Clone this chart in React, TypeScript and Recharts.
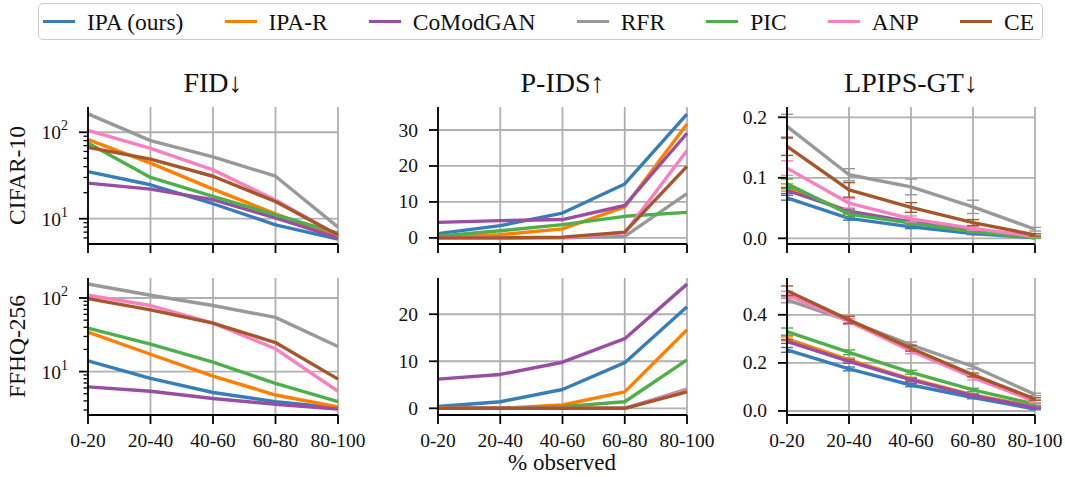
import React from 'react';
import { LineChart, Line, XAxis, YAxis, CartesianGrid, ErrorBar } from 'recharts';

const categories = ['0-20', '20-40', '40-60', '60-80', '80-100'];
const seriesNames = ['IPA (ours)', 'IPA-R', 'CoModGAN', 'RFR', 'PIC', 'ANP', 'CE'];
const seriesColors = ['#377eb8', '#ff7f00', '#984ea3', '#999999', '#4daf4a', '#f781bf', '#a65628'];
const metricTitles = ['FID↓', 'P-IDS↑', 'LPIPS-GT↓'];
const datasetLabels = ['CIFAR-10', 'FFHQ-256'];
const xLabel = '% observed';

// series order: IPA, IPA-R, CoModGAN, RFR, PIC, ANP, CE
const fidCifar = [
  [35, 24.7, 14.9, 8.5, 5.8],
  [82, 44, 22, 11.4, 6.2],
  [25.8, 22, 16.6, 10.2, 6.0],
  [163, 80, 52, 31, 8.0],
  [75, 30, 18.1, 11.1, 6.8],
  [105, 65, 36.7, 16.5, 6.4],
  [67, 48.8, 31, 15.8, 6.5],
];
const pidsCifar = [
  [1.2, 3.4, 6.9, 15.0, 34.4],
  [0.2, 0.9, 2.5, 8.6, 31.7],
  [4.3, 4.8, 5.1, 9.0, 29.1],
  [0, 0, 0, 0.4, 12.3],
  [0.5, 2.0, 3.7, 6.0, 7.1],
  [0, 0, 0, 1.4, 24.3],
  [0, 0, 0.2, 1.6, 19.9],
];
const lpipsCifar = [
  [0.067, 0.033, 0.019, 0.008, 0.001],
  [0.084, 0.044, 0.026, 0.012, 0.002],
  [0.079, 0.045, 0.027, 0.013, 0.002],
  [0.185, 0.105, 0.085, 0.052, 0.015],
  [0.09, 0.04, 0.025, 0.011, 0.001],
  [0.116, 0.058, 0.032, 0.0165, 0.003],
  [0.152, 0.08, 0.051, 0.026, 0.0055],
];
const lpipsCifarErr = [
  [0.004, 0.003, 0.003, 0.002, 0.001],
  [0.006, 0.004, 0.003, 0.002, 0.001],
  [0.005, 0.004, 0.003, 0.002, 0.001],
  [0.02, 0.01, 0.013, 0.011, 0.003],
  [0.008, 0.005, 0.003, 0.002, 0.001],
  [0.012, 0.008, 0.005, 0.003, 0.001],
  [0.015, 0.012, 0.008, 0.005, 0.002],
];
const fidFfhq = [
  [14, 8.1, 5.2, 3.9, 3.2],
  [34.4, 17.2, 8.7, 4.8, 3.3],
  [6.2, 5.4, 4.3, 3.6, 3.1],
  [155, 109, 79, 54.5, 21.9],
  [39, 23.6, 13.4, 6.9, 3.9],
  [109, 79, 45.6, 20.4, 5.4],
  [98, 69, 45.6, 24.8, 7.9],
];
const pidsFfhq = [
  [0.4, 1.4, 4.0, 9.7, 21.6],
  [0, 0, 0.7, 3.5, 16.7],
  [6.2, 7.2, 9.8, 14.8, 26.4],
  [0, 0, 0, 0, 4.1],
  [0, 0, 0.35, 1.4, 10.3],
  [0, 0, 0, 0, 3.8],
  [0, 0, 0, 0, 3.5],
];
const lpipsFfhq = [
  [0.254, 0.175, 0.108, 0.056, 0.008],
  [0.3, 0.2125, 0.133, 0.067, 0.018],
  [0.289, 0.206, 0.129, 0.064, 0.014],
  [0.462, 0.375, 0.275, 0.185, 0.069],
  [0.33, 0.244, 0.161, 0.0875, 0.028],
  [0.483, 0.372, 0.25, 0.139, 0.039],
  [0.5, 0.379, 0.261, 0.15, 0.05],
];
const lpipsFfhqErr = [
  [0.01, 0.008, 0.007, 0.005, 0.003],
  [0.008, 0.008, 0.007, 0.005, 0.003],
  [0.008, 0.008, 0.007, 0.005, 0.003],
  [0.012, 0.01, 0.012, 0.01, 0.005],
  [0.015, 0.01, 0.008, 0.007, 0.004],
  [0.015, 0.012, 0.012, 0.01, 0.005],
  [0.02, 0.015, 0.012, 0.008, 0.005],
];

const fidCifarTicks = [6, 7, 8, 9, 10, 20, 30, 40, 50, 60, 70, 80, 90, 100];
const fidFfhqTicks = [3, 4, 5, 6, 7, 8, 9, 10, 20, 30, 40, 50, 60, 70, 80, 90, 100];
const pidsCifarTicks = [0, 10, 20, 30];
const pidsFfhqTicks = [0, 10, 20];
const lpipsCifarTicks = [0, 0.1, 0.2];
const lpipsFfhqTicks = [0, 0.2, 0.4];

const FONT = "Liberation Serif, DejaVu Serif, Times New Roman, serif";
const TEXT = '#111';
const YW = 80;
const MT = 12;
const MR = 30;
const XH = 45;

const makeYTick = (log: boolean, decimals: boolean) => (p: any) => {
  const { x, y, payload } = p;
  const v = payload.value as number;
  if (log) {
    const e = Math.log10(v);
    const major = Math.abs(e - Math.round(e)) < 1e-6;
    if (!major) {
      return <line x1={x - 4.5} x2={x} y1={y} y2={y} stroke="#000" strokeWidth={1.3} />;
    }
    return (
      <g>
        <line x1={x - 9} x2={x} y1={y} y2={y} stroke="#000" strokeWidth={1.8} />
        <text x={x - 20} y={y} dy={7} textAnchor="end" fontFamily={FONT} fontSize={19.5} fill={TEXT}>
          10<tspan dy={-9} fontSize={14}>{Math.round(e)}</tspan>
        </text>
      </g>
    );
  }
  const label = decimals ? v.toFixed(1) : String(v);
  return (
    <g>
      <line x1={x - 9} x2={x} y1={y} y2={y} stroke="#000" strokeWidth={1.8} />
      <text x={x - 20} y={y} dy={6.5} textAnchor="end" fontFamily={FONT} fontSize={19.5} fill={TEXT}>
        {label}
      </text>
    </g>
  );
};

type PanelProps = {
  values: number[][];
  errors?: number[][];
  left: number;
  top: number;
  plotW: number;
  plotH: number;
  log?: boolean;
  decimals?: boolean;
  domain: [number, number];
  ticks: number[];
  gridValues: number[];
  showX: boolean;
};

function Panel(props: PanelProps) {
  const { values, errors, left, top, plotW, plotH, log, decimals, domain, ticks, gridValues, showX } = props;
  const data = categories.map((cat, i) => {
    const row: any = { cat };
    values.forEach((s, k) => {
      row['s' + k] = s[i];
      if (errors) row['e' + k] = errors[k][i];
    });
    return row;
  });
  const axisStyle = { stroke: '#000', strokeWidth: 1.8 };
  const tickFn = makeYTick(!!log, !!decimals);
  return (
    <div style={{ position: 'absolute', left: left - YW, top: top - MT }}>
      <LineChart
        width={YW + plotW + MR}
        height={MT + plotH + XH}
        data={data}
        margin={{ top: MT, right: MR, left: 0, bottom: 0 }}
      >
        <CartesianGrid stroke="#b0b0b0" strokeWidth={1.8} horizontalValues={gridValues} />
        {values.map((_, k) => (
          <Line
            key={k}
            type="linear"
            dataKey={'s' + k}
            stroke={seriesColors[k]}
            strokeWidth={3.4}
            strokeLinejoin="round"
            dot={false}
            activeDot={false}
            isAnimationActive={false}
          >
            {errors ? (
              <ErrorBar
                dataKey={'e' + k}
                width={6}
                strokeWidth={1.4}
                stroke={seriesColors[k]}
                direction="y"
                isAnimationActive={false}
              />
            ) : null}
          </Line>
        ))}
        <XAxis
          dataKey="cat"
          scale="point"
          interval={0}
          height={XH}
          tickSize={9}
          tickMargin={9}
          axisLine={axisStyle}
          tickLine={axisStyle}
          tick={{ fontFamily: FONT, fontSize: 19.5, fill: TEXT }}
          tickFormatter={(v: string) => (showX ? v : '')}
        />
        <XAxis
          xAxisId="top"
          orientation="top"
          dataKey="cat"
          scale="point"
          height={0}
          tick={false}
          tickLine={false}
          axisLine={axisStyle}
        />
        <YAxis
          type="number"
          scale={log ? 'log' : 'linear'}
          domain={domain}
          allowDataOverflow
          ticks={ticks}
          interval={0}
          width={YW}
          tickSize={0}
          tickMargin={0}
          tickLine={false}
          axisLine={axisStyle}
          tick={tickFn}
        />
        <YAxis
          yAxisId="right"
          orientation="right"
          type="number"
          domain={[0, 1]}
          width={0}
          tick={false}
          tickLine={false}
          axisLine={axisStyle}
        />
      </LineChart>
    </div>
  );
}

const colLeft = [88, 438, 787];
const colW = [250, 249, 248];
const rowTop = [107, 278];
const rowH = [137, 137];

function Legend() {
  return (
    <div
      style={{
        position: 'absolute',
        left: 38,
        top: 3,
        width: 1005,
        height: 37,
        boxSizing: 'border-box',
        border: '1.5px solid #cccccc',
        borderRadius: 5,
        background: '#fff',
        display: 'flex',
        alignItems: 'center',
        justifyContent: 'space-between',
        padding: '0 8px 0 4px',
        fontFamily: FONT,
        fontSize: 23.5,
        color: TEXT,
      }}
    >
      {seriesNames.map((n, k) => (
        <div key={n} style={{ display: 'flex', alignItems: 'center' }}>
          <span
            style={{ display: 'inline-block', width: 32, height: 3.4, background: seriesColors[k], marginRight: 12 }}
          />
          <span style={{ lineHeight: '34px' }}>{n}</span>
        </div>
      ))}
    </div>
  );
}

export default function App() {
  return (
    <div style={{ position: 'absolute', left: 0, top: 0, width: 1065, height: 477, background: '#fff', overflow: 'hidden', fontFamily: FONT }}>
      <Legend />
      <Panel values={fidCifar} left={colLeft[0]} top={rowTop[0]} plotW={colW[0]} plotH={rowH[0]} log domain={[5.1, 196]} ticks={fidCifarTicks} gridValues={[10, 100]} showX={false} />
      <Panel values={pidsCifar} left={colLeft[1]} top={rowTop[0]} plotW={colW[1]} plotH={rowH[0]} domain={[-1.7, 36.4]} ticks={pidsCifarTicks} gridValues={pidsCifarTicks} showX={false} />
      <Panel values={lpipsCifar} errors={lpipsCifarErr} left={colLeft[2]} top={rowTop[0]} plotW={colW[2]} plotH={rowH[0]} decimals domain={[-0.0094, 0.217]} ticks={lpipsCifarTicks} gridValues={lpipsCifarTicks} showX={false} />
      <Panel values={fidFfhq} left={colLeft[0]} top={rowTop[1]} plotW={colW[0]} plotH={rowH[1]} log domain={[2.57, 187]} ticks={fidFfhqTicks} gridValues={[10, 100]} showX />
      <Panel values={pidsFfhq} left={colLeft[1]} top={rowTop[1]} plotW={colW[1]} plotH={rowH[1]} domain={[-1.42, 27.7]} ticks={pidsFfhqTicks} gridValues={pidsFfhqTicks} showX />
      <Panel values={lpipsFfhq} errors={lpipsFfhqErr} left={colLeft[2]} top={rowTop[1]} plotW={colW[2]} plotH={rowH[1]} decimals domain={[-0.0167, 0.553]} ticks={lpipsFfhqTicks} gridValues={lpipsFfhqTicks} showX />
      <svg width={1065} height={477} style={{ position: 'absolute', left: 0, top: 0, pointerEvents: 'none' }}>
        {metricTitles.map((t, i) => (
          <text key={t} x={colLeft[i] + colW[i] / 2} y={92} textAnchor="middle" fontFamily={FONT} fontSize={28} fill={TEXT}>
            {t}
          </text>
        ))}
        {datasetLabels.map((t, r) => (
          <text
            key={t}
            transform={`translate(25, ${rowTop[r] + rowH[r] / 2}) rotate(-90)`}
            textAnchor="middle"
            fontFamily={FONT}
            fontSize={23.5}
            fill={TEXT}
          >
            {t}
          </text>
        ))}
        <text x={562} y={470} textAnchor="middle" fontFamily={FONT} fontSize={23} fill={TEXT}>
          {xLabel}
        </text>
      </svg>
    </div>
  );
}
